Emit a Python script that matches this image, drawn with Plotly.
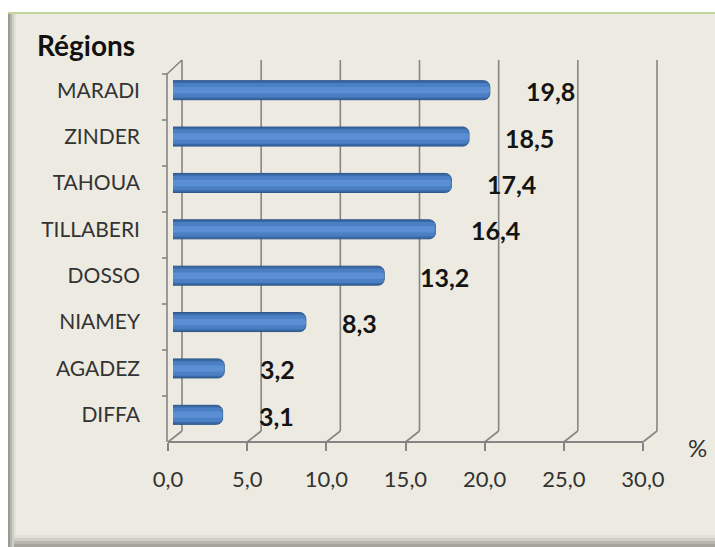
import plotly.graph_objects as go

# ---------------- data ----------------
REGIONS = ["MARADI", "ZINDER", "TAHOUA", "TILLABERI", "DOSSO", "NIAMEY", "AGADEZ", "DIFFA"]
VALUES = [19.8, 18.5, 17.4, 16.4, 13.2, 8.3, 3.2, 3.1]
TICKS = [0, 5, 10, 15, 20, 25, 30]
TICK_LABELS = ["0,0", "5,0", "10,0", "15,0", "20,0", "25,0", "30,0"]
Y_TITLE = "Régions"
X_TITLE = "%"

# ---------------- geometry (page pixels) ----------------
W, H = 715, 547
FONT = "Lato, 'Open Sans', 'DejaVu Sans', sans-serif"
GRID = "#858585"


def px(x):
    return x / W


def py(y):
    return 1 - y / H


# back wall (gridlines) and front floor edge
BACK_X0, BACK_X30, TOP_Y, BACK_Y = 182, 657, 60, 431
DEPTH_DX = 14
FR_X0, FR_X30, FR_Y = BACK_X0 - DEPTH_DX, BACK_X30 - DEPTH_DX, 442
XMAX = TICKS[-1]


def lerp(a, b, v):
    return a + (b - a) * v / XMAX


shapes = []
# frame background
shapes.append(dict(type="rect", xref="paper", yref="paper", x0=px(8), x1=1, y0=0, y1=py(13),
                   fillcolor="#edebe1", line=dict(width=0), layer="below"))
# left shadow
for x0, x1, c in [(8, 10, "#9a9a92"), (10, 12, "#b5b5ad"), (12, 14, "#cfcfc6"), (14, 16, "#e2e1d8")]:
    shapes.append(dict(type="rect", xref="paper", yref="paper", x0=px(x0), x1=px(x1), y0=0, y1=py(14),
                       fillcolor=c, line=dict(width=0), layer="below"))
# bottom shadow
for y0, y1, c in [(535, 538, "#e2e1d8"), (538, 541, "#cfcfc6"), (541, 544, "#b8b8b0"), (544, 547, "#a5a59e")]:
    shapes.append(dict(type="rect", xref="paper", yref="paper", x0=px(14), x1=1, y0=py(y1), y1=py(y0),
                       fillcolor=c, line=dict(width=0), layer="below"))
# top green border
shapes.append(dict(type="line", xref="paper", yref="paper", x0=px(8), x1=1, y0=py(13), y1=py(13),
                   line=dict(color="#c3d69b", width=2)))

# vertical back gridlines + slanted floor connectors to the front ticks
for v in TICKS:
    bx, fx = lerp(BACK_X0, BACK_X30, v), lerp(FR_X0, FR_X30, v)
    shapes.append(dict(type="line", xref="paper", yref="paper", x0=px(bx), y0=py(TOP_Y), x1=px(bx), y1=py(BACK_Y),
                       line=dict(color=GRID, width=1.6), layer="below"))
    shapes.append(dict(type="line", xref="paper", yref="paper", x0=px(bx), y0=py(BACK_Y), x1=px(fx), y1=py(FR_Y),
                       line=dict(color=GRID, width=1.6), layer="below"))

# left front wall line with category separators
WALL_X, WALL_TOP = FR_X0 - 1, 74
shapes.append(dict(type="line", xref="paper", yref="paper", x0=px(WALL_X), y0=py(WALL_TOP), x1=px(WALL_X), y1=py(FR_Y),
                   line=dict(color=GRID, width=1.6), layer="below"))
shapes.append(dict(type="line", xref="paper", yref="paper", x0=px(WALL_X), y0=py(WALL_TOP), x1=px(BACK_X0), y1=py(TOP_Y),
                   line=dict(color=GRID, width=1.6), layer="below"))
n = len(REGIONS)
for k in range(n):
    yy = WALL_TOP + (FR_Y - WALL_TOP) * k / n
    shapes.append(dict(type="line", xref="paper", yref="paper", x0=px(WALL_X - 5), y0=py(yy), x1=px(WALL_X), y1=py(yy),
                       line=dict(color=GRID, width=1.6), layer="below"))

fig = go.Figure()
# cylinder-like bars: overlays of decreasing width
for width, color, lw, cr in [(0.41, "#3a68a6", 1, 6), (0.31, "#4a80c3", 0, 4), (0.14, "#5a90d3", 0, 3)]:
    fig.add_trace(go.Bar(
        x=VALUES, y=REGIONS, orientation="h", width=width,
        marker=dict(color=color, line=dict(color="#2c5589", width=lw), cornerradius=cr),
        hoverinfo="skip", showlegend=False,
    ))
# invisible trace to hold the front axis
fig.add_trace(go.Scatter(x=[TICKS[0], TICKS[-1]], y=[REGIONS[0], REGIONS[0]], xaxis="x2", yaxis="y",
                         mode="markers", marker=dict(opacity=0), hoverinfo="skip", showlegend=False))

annotations = []
for r, v in zip(REGIONS, VALUES):
    annotations.append(dict(x=v, y=r, xref="x", yref="y", text=f"{v:.1f}".replace(".", ","),
                            showarrow=False, xanchor="left", xshift=34, yshift=-1,
                            font=dict(family=FONT, size=25, color="#141414", weight="bold")))
annotations.append(dict(x=px(35), y=py(45), xref="paper", yref="paper", text=f"<b>{Y_TITLE}</b>",
                        showarrow=False, xanchor="left", yanchor="middle",
                        font=dict(family=FONT, size=28, color="#111111")))
annotations.append(dict(x=px(697), y=py(447), xref="paper", yref="paper", text=X_TITLE,
                        showarrow=False, xanchor="center", yanchor="middle",
                        font=dict(family=FONT, size=24, color="#333333")))

fig.update_layout(
    width=W, height=H,
    margin=dict(l=0, r=0, t=0, b=0, pad=0, autoexpand=False),
    paper_bgcolor="white", plot_bgcolor="rgba(0,0,0,0)",
    barmode="overlay",
    shapes=shapes, annotations=annotations,
    xaxis=dict(domain=[px(173), px(653)], range=[0, XMAX], visible=False, fixedrange=True, automargin=False),
    xaxis2=dict(domain=[px(FR_X0), px(FR_X30)], range=[0, XMAX], anchor="free", position=py(FR_Y),
                tickvals=TICKS, ticktext=TICK_LABELS, showline=True, linecolor=GRID, linewidth=1.6,
                ticks="outside", ticklen=8, tickcolor=GRID, tickwidth=1.6, showgrid=False, zeroline=False,
                automargin=False,
                ticklabelstandoff=10, tickfont=dict(family=FONT, size=22, color="#333333")),
    yaxis=dict(domain=[py(438), py(67)], type="category", categoryorder="array", categoryarray=REGIONS,
               autorange="reversed", showgrid=False, zeroline=False, showline=False, ticks="",
               automargin=False,
               ticklabelstandoff=32, tickfont=dict(family=FONT, size=21, color="#333333")),
)

fig.write_html("out.html", config={"displayModeBar": False},
               post_script="document.body.style.margin='0';document.body.style.overflow='hidden';")
